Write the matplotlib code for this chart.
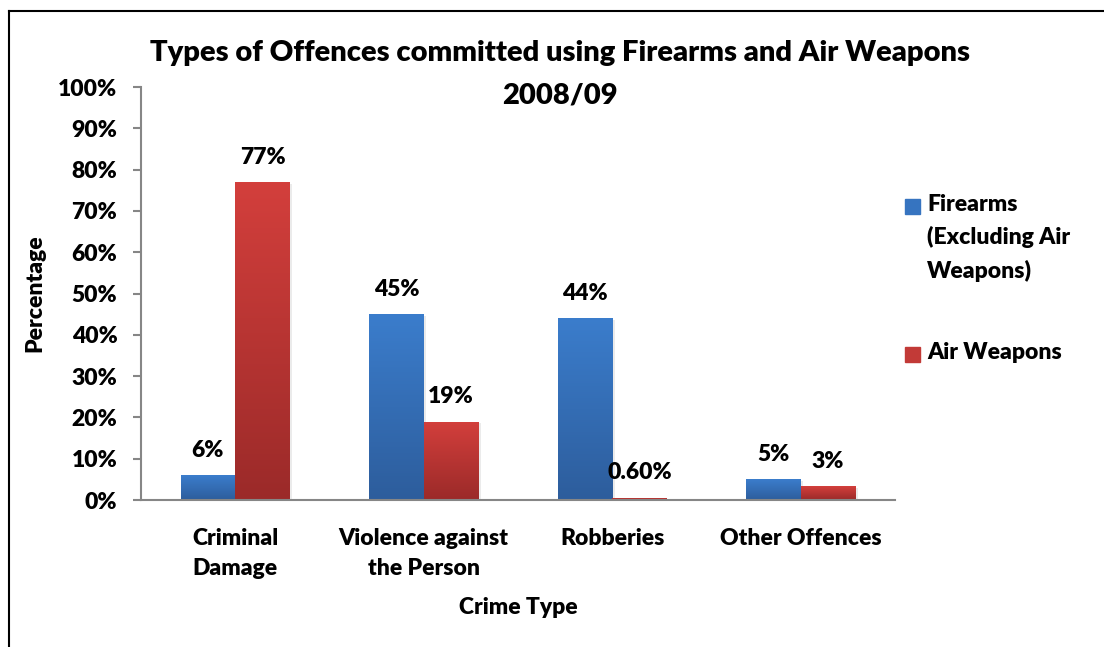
import numpy as np
import matplotlib
matplotlib.use("Agg")
import matplotlib.pyplot as plt
from matplotlib.lines import Line2D
from matplotlib.colors import LinearSegmentedColormap

categories = ["Criminal\nDamage", "Violence against\nthe Person", "Robberies", "Other Offences"]
firearms = [6, 45, 44, 5]
air_weapons = [77, 19, 0.6, 3.3]
firearm_labels = ["6%", "45%", "44%", "5%"]
air_labels = ["77%", "19%", "0.60%", "3%"]
yticks = [0, 10, 20, 30, 40, 50, 60, 70, 80, 90, 100]

W = "heavy"
plt.rcParams['font.family'] = ['Lato', 'DejaVu Sans']
plt.rcParams['font.weight'] = W

fig = plt.figure(figsize=(11.04, 6.47), dpi=100)
ax = fig.add_axes([0.1277, 0.2272, 0.6830, 0.6383])

x = np.arange(len(categories))
w = 0.29
b1 = ax.bar(x - w / 2, firearms, w, color="#3674C0", zorder=2)
b2 = ax.bar(x + w / 2, air_weapons, w, color="#C23A37", zorder=2)

# vertical gradient on each bar
blue_cm = LinearSegmentedColormap.from_list("b", ["#2D5D9C", "#3B7DCC"])
red_cm = LinearSegmentedColormap.from_list("r", ["#9B2A29", "#D33F3C"])
grad = np.linspace(0, 1, 256).reshape(-1, 1)
for bars, cm in ((b1, blue_cm), (b2, red_cm)):
    for p in bars:
        x0, y0 = p.get_x(), p.get_y()
        x1, y1 = x0 + p.get_width(), y0 + p.get_height()
        im = ax.imshow(grad, cmap=cm, origin="lower", aspect="auto",
                       extent=[x0, x1, y0, y1], zorder=2.1)
        im.set_clip_path(p)
        # soft shadow
        ax.bar(p.get_x() + p.get_width() / 2 + 0.012, p.get_height(), p.get_width(),
               bottom=-0.4, color="#000000", alpha=0.08, zorder=1.5)

fs = 16.5
for bars, labels in ((b1, firearm_labels), (b2, air_labels)):
    for p, lab in zip(bars, labels):
        ax.annotate(lab, (p.get_x() + p.get_width() / 2, p.get_height()),
                    xytext=(0, 18), textcoords="offset points",
                    ha="center", va="center", fontsize=fs, fontweight=W)

ax.set_xlim(-0.5, 3.5)
ax.set_ylim(0, 100)
ax.set_yticks(yticks)
ax.set_yticklabels([f"{t}%" for t in yticks], fontsize=fs, fontweight=W)
ax.set_xticks(x)
ax.set_xticklabels(categories, fontsize=fs, fontweight=W, linespacing=1.55)
ax.tick_params(axis="x", length=0, pad=20)
ax.tick_params(axis="y", length=6, width=1.5, color="#868686", pad=11, direction="out")

for s in ("top", "right"):
    ax.spines[s].set_visible(False)
for s in ("left", "bottom"):
    ax.spines[s].set_color("#868686")
    ax.spines[s].set_linewidth(1.5)

ax.set_xlabel("Crime Type", fontsize=fs, fontweight=W, labelpad=13)
ax.set_ylabel("Percentage", fontsize=fs, fontweight=W, labelpad=9)

fig.text(0.507, 0.918, "Types of Offences committed using Firearms and Air Weapons",
         ha="center", va="center", fontsize=21, fontweight=W)
fig.text(0.507, 0.853, "2008/09", ha="center", va="center", fontsize=21, fontweight=W)

# legend drawn by hand so the swatch sits on the first text line
leg_names = ["Firearms\n(Excluding Air\nWeapons)", "Air Weapons"]
leg_colors = ["#3674C0", "#C23A37"]
leg_y = [1 - 206 / 647, 1 - 354 / 647]
for name, col, yy in zip(leg_names, leg_colors, leg_y):
    fig.patches.append(plt.Rectangle((905 / 1104, yy - 7.5 / 647), 15 / 1104, 15 / 647,
                                     color=col, transform=fig.transFigure, figure=fig))
    fig.text(927 / 1104, yy + 12 / 647, name, ha="left", va="top", fontsize=fs,
             fontweight=W, linespacing=1.62)

# outer frame (left and top edges)
fig.add_artist(Line2D([9 / 1104, 9 / 1104], [0, 1 - 11 / 647], color="black", lw=1.5,
                      transform=fig.transFigure))
fig.add_artist(Line2D([9 / 1104, 1], [1 - 11 / 647, 1 - 11 / 647], color="black", lw=1.5,
                      transform=fig.transFigure))

fig.savefig("out.png", dpi=100)
